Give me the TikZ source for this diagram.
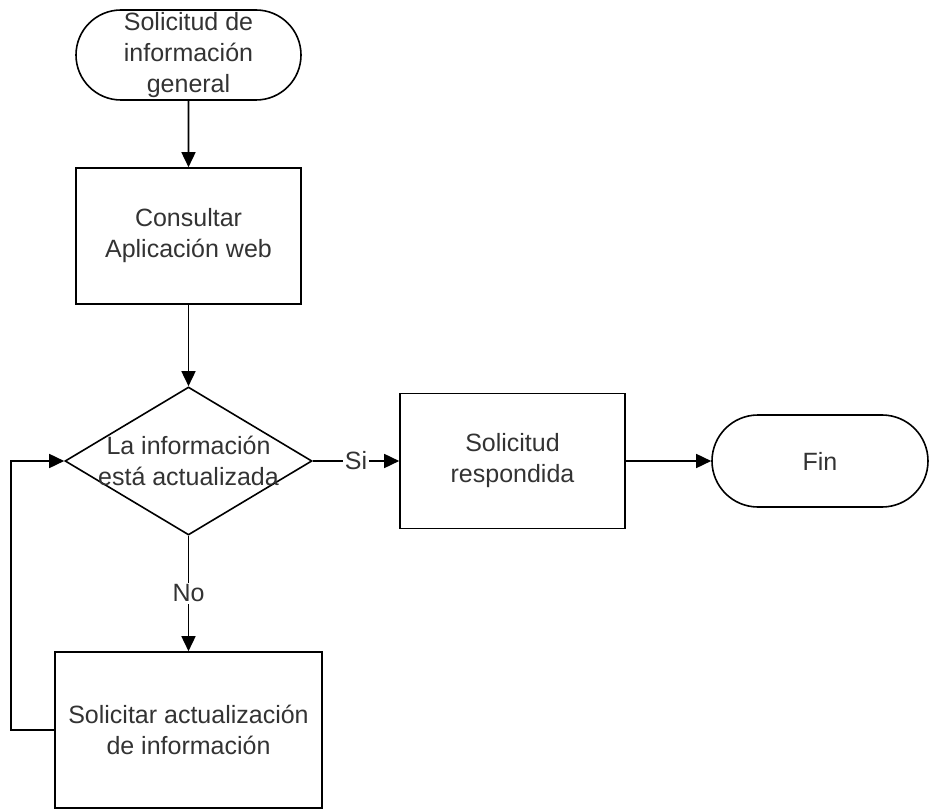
\documentclass[tikz,border=0pt]{standalone}
\usepackage{fontspec}
\setmainfont{Liberation Sans}
\usetikzlibrary{shapes.geometric,shapes.misc,arrows.meta}
\begin{document}
\begin{tikzpicture}[x=1pt,y=-1pt,
  base/.style={draw=black, line width=1.6pt, inner sep=0pt, font=\fontsize{25}{31}\selectfont, text=black!80, align=center},
  term/.style={base, rounded rectangle},
  proc/.style={base, rectangle},
  dec/.style={base, diamond},
  conn/.style={line width=1.6pt, draw=black, -{Triangle[length=15pt,width=14pt]}},
  lbl/.style={fill=white, inner sep=1.5pt, font=\fontsize{25}{31}\selectfont, text=black!80}
]
\useasboundingbox (0,0) rectangle (929,810);
\node[term, minimum width=225pt, minimum height=90pt] (start) at (188.5,55) {Solicitud de\\información\\general};
\node[proc, minimum width=225pt, minimum height=136pt] (cons) at (188.5,236) {Consultar\\Aplicación web};
\node[dec, minimum width=247pt, minimum height=148pt] (dec) at (188.5,461) {};
\node[base, draw=none] (dect) at (188.5,461) {La información\\está actualizada};
\node[proc, minimum width=225pt, minimum height=135pt] (resp) at (512.5,461) {Solicitud\\respondida};
\node[term, minimum width=216pt, minimum height=92pt] (fin) at (820,461) {Fin};
\node[proc, minimum width=267pt, minimum height=156pt] (sol) at (188.5,730) {Solicitar actualización\\de información};
\draw[conn] (start) -- (cons);
\draw[conn] (cons) -- (dec);
\draw[conn] (dec.east) -- node[lbl] {Si} (resp.west);
\draw[conn] (resp) -- (fin);
\draw[conn] (dec.south) -- node[lbl] {No} (sol.north);
\draw[conn] (sol.west) -- ++(-43,0) |- (dec.west);
\end{tikzpicture}
\end{document}
